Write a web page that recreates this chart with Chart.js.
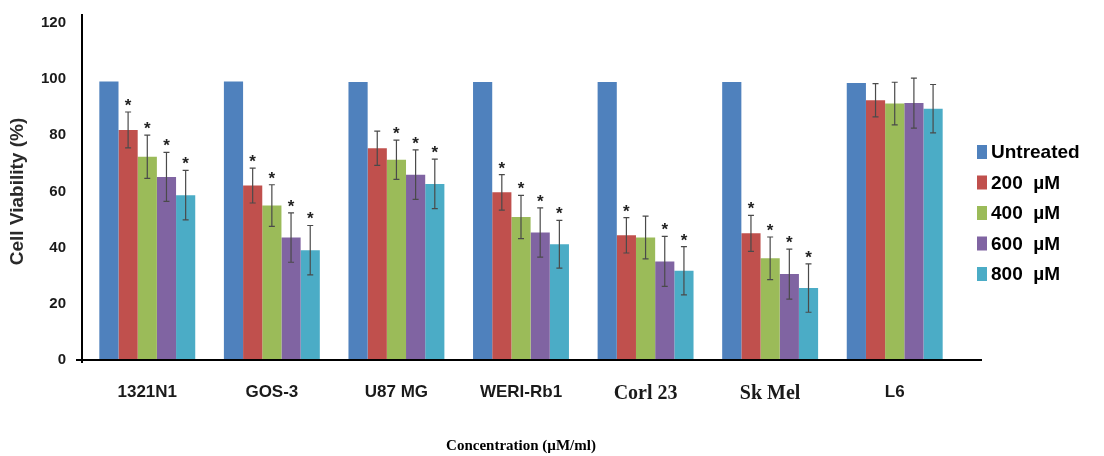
<!DOCTYPE html>
<html>
<head>
<meta charset="utf-8">
<script src="https://cdn.jsdelivr.net/npm/chart.js@4/dist/chart.umd.min.js"></script>
<style>
  html, body { margin: 0; padding: 0; background: #ffffff; }
  #wrap { width: 1104px; height: 456px; position: relative; }
</style>
</head>
<body>
<div id="wrap"><canvas id="c" width="1104" height="456"></canvas></div>
<script>
// ---- data ----
const categories = ["1321N1", "GOS-3", "U87 MG", "WERI-Rb1", "Corl 23", "Sk Mel", "L6"];
const seriesLabels = ["Untreated", "200  \u00b5M", "400  \u00b5M", "600  \u00b5M", "800  \u00b5M"];

const untreated = [99.2, 99.2, 99.0, 99.0, 99.0, 99.0, 98.6];
const conc200   = [81.9, 62.1, 75.4, 59.7, 44.4, 45.1, 92.5];
const conc400   = [72.4, 55.0, 71.3, 50.9, 43.6, 36.2, 91.3];
const conc600   = [65.2, 43.6, 66.0, 45.4, 35.1, 30.6, 91.5];
const conc800   = [58.7, 39.1, 62.7, 41.2, 31.8, 25.6, 89.5];

const err200 = [6.4, 6.2, 6.1, 6.3, 6.3, 6.4, 5.9];
const err400 = [7.7, 7.4, 7.0, 7.7, 7.6, 7.6, 7.6];
const err600 = [8.7, 8.8, 8.8, 8.8, 8.9, 8.9, 8.9];
const err800 = [8.8, 8.8, 8.8, 8.5, 8.6, 8.6, 8.6];

const star200 = [1, 1, 0, 1, 1, 1, 0];
const star400 = [1, 1, 1, 1, 0, 1, 0];
const star600 = [1, 1, 1, 1, 1, 1, 0];
const star800 = [1, 1, 1, 1, 1, 1, 0];

const yTicks = [0, 20, 40, 60, 80, 100, 120];
const serifCategories = ["Corl 23", "Sk Mel"];

// ---- styles ----
const colors = ["#4F81BD", "#C0504D", "#9BBB59", "#8064A2", "#4BACC6"];
const seriesValues = [untreated, conc200, conc400, conc600, conc800];
const seriesErrors = [null, err200, err400, err600, err800];
const seriesStars  = [null, star200, star400, star600, star800];

const SANS = "'Liberation Sans', Arial, sans-serif";
const SERIF = "'Liberation Serif', 'Times New Roman', serif";

const errorBarPlugin = {
  id: 'errorBars',
  afterDatasetsDraw(chart) {
    const ctx = chart.ctx;
    const yScale = chart.scales.y;
    chart.data.datasets.forEach((ds, i) => {
      const errs = seriesErrors[i];
      if (!errs) return;
      const stars = seriesStars[i];
      const meta = chart.getDatasetMeta(i);
      meta.data.forEach((bar, j) => {
        const v = ds.data[j];
        const yTop = yScale.getPixelForValue(v + errs[j]);
        const yBot = yScale.getPixelForValue(v - errs[j]);
        const x = bar.x;
        ctx.save();
        ctx.strokeStyle = '#4a4a4a';
        ctx.lineWidth = 1.2;
        ctx.beginPath();
        ctx.moveTo(x, yTop); ctx.lineTo(x, yBot);
        ctx.moveTo(x - 3, yTop); ctx.lineTo(x + 3, yTop);
        ctx.moveTo(x - 3, yBot); ctx.lineTo(x + 3, yBot);
        ctx.stroke();
        if (stars && stars[j]) {
          ctx.fillStyle = '#222222';
          ctx.font = "bold 17px " + SANS;
          ctx.textAlign = 'center';
          ctx.textBaseline = 'alphabetic';
          ctx.fillText('*', x, yTop - 1);
        }
        ctx.restore();
      });
    });
  }
};

const axesAndLegendPlugin = {
  id: 'axesLegend',
  afterDraw(chart) {
    const ctx = chart.ctx;
    const a = chart.chartArea;
    const axX = a.left - 3;
    ctx.save();
    ctx.strokeStyle = '#000000';
    ctx.lineWidth = 2;
    ctx.beginPath();
    ctx.moveTo(axX, 14);
    ctx.lineTo(axX, a.bottom + 3);
    ctx.moveTo(axX - 6, a.bottom);
    ctx.lineTo(a.right + 25, a.bottom);
    ctx.stroke();
    // legend
    const x0 = 977, y0 = 152, dy = 30.5;
    chart.data.datasets.forEach((ds, i) => {
      const y = y0 + i * dy;
      ctx.fillStyle = ds.backgroundColor;
      ctx.fillRect(x0, y - 7, 10, 14);
      ctx.fillStyle = '#000000';
      ctx.font = "bold 19px " + SANS;
      ctx.textAlign = 'left';
      ctx.textBaseline = 'middle';
      ctx.fillText(ds.label, x0 + 14, y + 1);
    });
    ctx.restore();
  }
};

new Chart(document.getElementById('c'), {
  type: 'bar',
  data: {
    labels: categories,
    datasets: seriesLabels.map((lab, i) => ({
      label: lab,
      data: seriesValues[i],
      backgroundColor: colors[i],
      borderWidth: 0,
      categoryPercentage: 0.77,
      barPercentage: 1.0
    }))
  },
  options: {
    responsive: false,
    animation: false,
    devicePixelRatio: 1,
    layout: { padding: { left: 0, right: 147, top: 23, bottom: 0 } },
    plugins: {
      legend: { display: false },
      tooltip: { enabled: false }
    },
    scales: {
      x: {
        grid: { display: false, drawTicks: false },
        border: { display: false },
        ticks: {
          padding: 22,
          color: '#1a1a1a',
          font: (c) => {
            const lab = categories[c.index];
            if (serifCategories.includes(lab)) return { family: SERIF, size: 20, weight: 'bold' };
            return { family: SANS, size: 17, weight: 'bold' };
          }
        },
        title: {
          display: true,
          text: 'Concentration (\u00b5M/ml)',
          color: '#000000',
          font: { family: SERIF, size: 15, weight: 'bold' },
          padding: { top: 0, bottom: 1 }
        },
        afterFit(s) { s.height = 96; s.paddingLeft = 0; s.paddingRight = 0; }
      },
      y: {
        min: 0, max: 120,
        afterBuildTicks(s) { s.ticks = yTicks.map(v => ({ value: v })); },
        grid: { display: false, drawTicks: false },
        border: { display: false },
        ticks: {
          padding: 19,
          color: '#1a1a1a',
          font: { family: SANS, size: 15, weight: 'bold' }
        },
        title: {
          display: true,
          text: 'Cell Viability (%)',
          color: '#2a2a2a',
          font: { family: SANS, size: 19, weight: 'bold' },
          padding: { top: 6, bottom: 0 }
        },
        afterFit(s) { s.width = 85; s.paddingTop = 0; s.paddingBottom = 0; }
      }
    }
  },
  plugins: [errorBarPlugin, axesAndLegendPlugin]
});
</script>
</body>
</html>
